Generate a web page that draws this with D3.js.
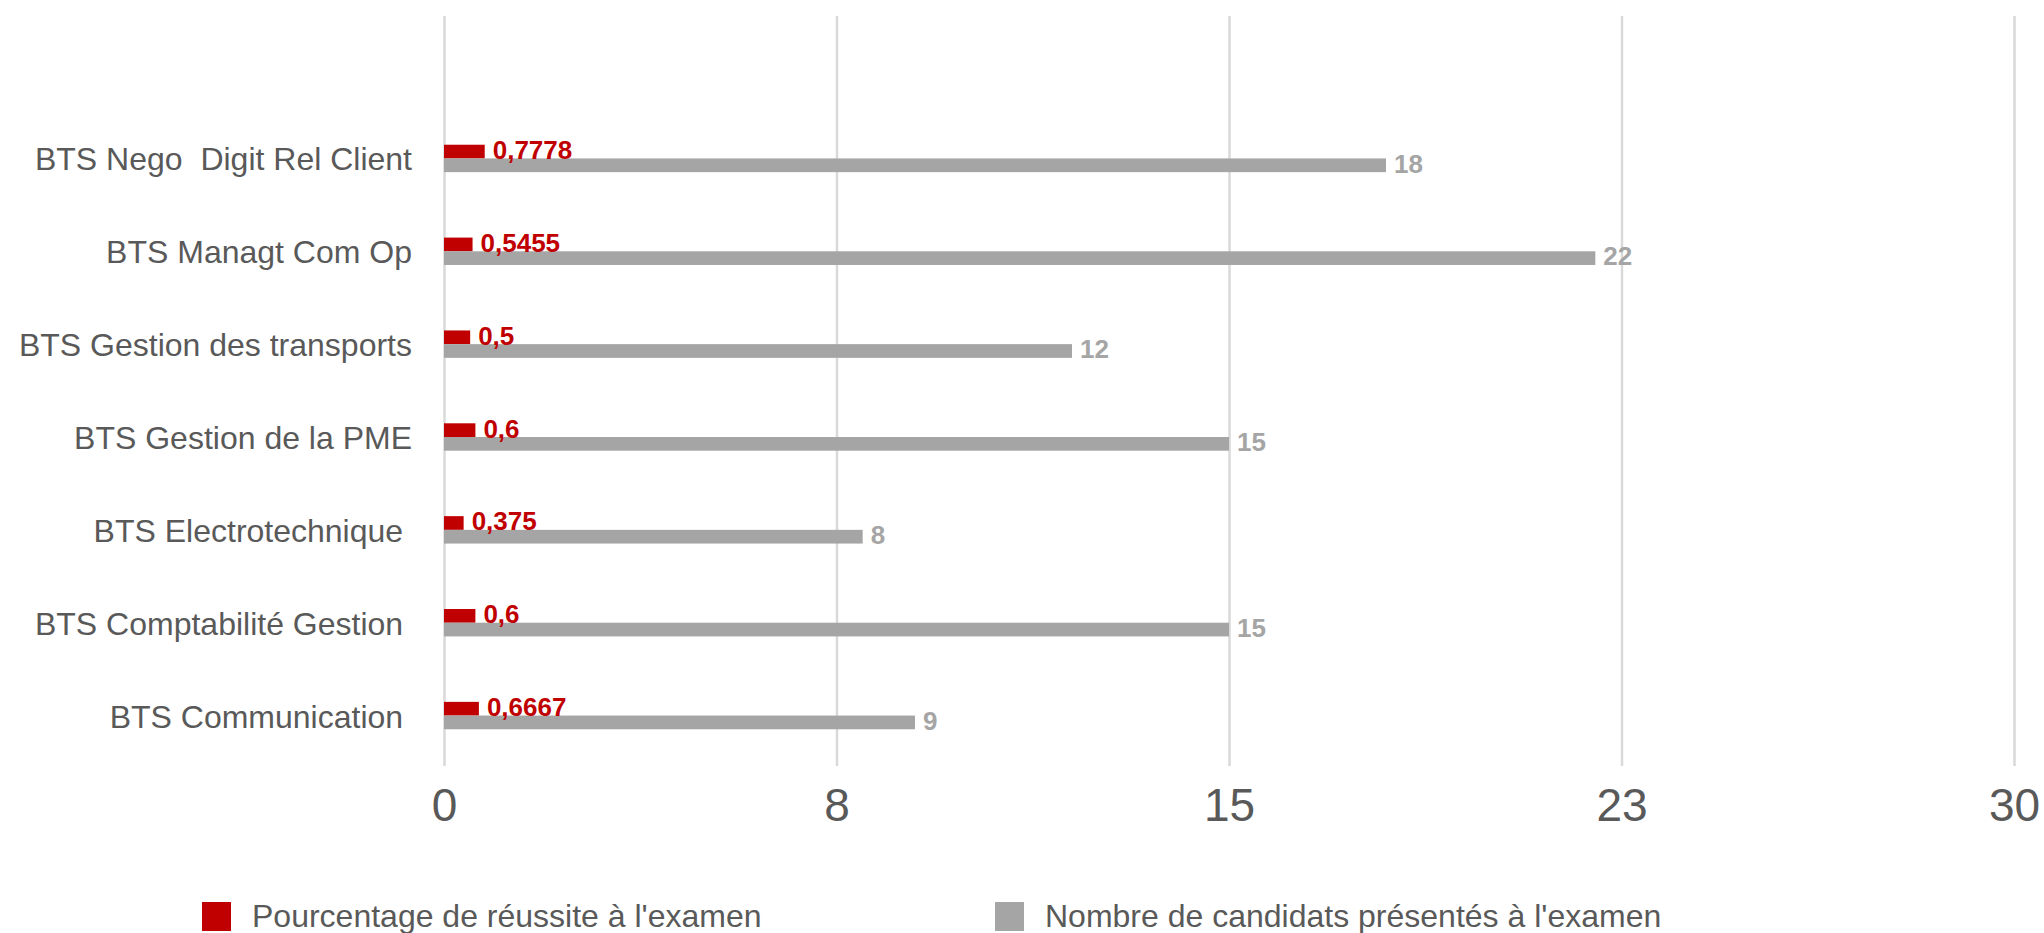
<!DOCTYPE html>
<html>
<head>
<meta charset="utf-8">
<script src="https://cdn.jsdelivr.net/npm/d3@7"></script>
<style>
  html, body { margin: 0; padding: 0; background: #fff; }
  svg { display: block; font-family: "Liberation Sans", Arial, sans-serif; }
  text { white-space: pre; }
</style>
</head>
<body>
<svg id="chart" width="2044" height="933"></svg>
<script>
// ---- data ----
const categories = [
  "BTS Nego  Digit Rel Client",
  "BTS Managt Com Op",
  "BTS Gestion des transports",
  "BTS Gestion de la PME",
  "BTS Electrotechnique ",
  "BTS Comptabilité Gestion ",
  "BTS Communication "
];
const successRate = [0.7778, 0.5455, 0.5, 0.6, 0.375, 0.6, 0.6667];
const candidates = [18, 22, 12, 15, 8, 15, 9];
const tickValues = [0, 7.5, 15, 22.5, 30];
const tickLabels = ["0", "8", "15", "23", "30"];
const seriesNames = ["Pourcentage de réussite à l'examen", "Nombre de candidats présentés à l'examen"];
const seriesColors = ["#c00000", "#a5a5a5"];

// ---- layout ----
const svg = d3.select("#chart");
const xLeft = 444, xRight = 2014;
const gridTop = 16, gridBottom = 766;
const x = d3.scaleLinear().domain([0, 30]).range([xLeft, xRight]);
const y = d3.scaleBand().domain(categories).range([112, 762]);
const barH = 13.7;
const textColor = "#595959";

// gridlines + tick labels via axis
const axis = d3.axisBottom(x)
  .tickValues(tickValues)
  .tickFormat((d, i) => tickLabels[i])
  .tickSize(-(gridBottom - gridTop));
const gAxis = svg.append("g").attr("transform", `translate(0,${gridBottom})`).call(axis);
gAxis.select(".domain").remove();
gAxis.selectAll(".tick line").attr("stroke", "#d9d9d9").attr("stroke-width", 2.5);
gAxis.selectAll(".tick text")
  .attr("y", 55).attr("dy", 0)
  .attr("fill", textColor)
  .attr("font-size", 46)
  .attr("font-family", "Liberation Sans, Arial, sans-serif");

// category labels
svg.append("g").selectAll("text").data(categories).join("text")
  .attr("x", 412)
  .attr("y", d => y(d) + y.bandwidth() / 2 + 12)
  .attr("text-anchor", "end")
  .attr("font-size", 32)
  .attr("fill", textColor)
  .text(d => d);

const rows = categories.map((c, i) => ({ c, p: successRate[i], n: candidates[i] }));
const center = d => y(d.c) + y.bandwidth() / 2;

// red bars (success rate)
svg.append("g").selectAll("rect").data(rows).join("rect")
  .attr("x", x(0))
  .attr("y", d => center(d) - barH)
  .attr("width", d => x(d.p) - x(0))
  .attr("height", barH)
  .attr("fill", seriesColors[0]);

// gray bars (candidates)
svg.append("g").selectAll("rect").data(rows).join("rect")
  .attr("x", x(0))
  .attr("y", d => center(d))
  .attr("width", d => x(d.n) - x(0))
  .attr("height", barH)
  .attr("fill", seriesColors[1]);

// labels
svg.append("g").selectAll("text").data(rows).join("text")
  .attr("x", d => x(d.p) + 8)
  .attr("y", d => center(d) + 0.5)
  .attr("font-size", 26)
  .attr("font-weight", "bold")
  .attr("fill", seriesColors[0])
  .text(d => String(d.p).replace(".", ","));

svg.append("g").selectAll("text").data(rows).join("text")
  .attr("x", d => x(d.n) + 8)
  .attr("y", d => center(d) + barH + 0.5)
  .attr("font-size", 26)
  .attr("font-weight", "bold")
  .attr("fill", seriesColors[1])
  .text(d => String(d.n));

// legend
const legendX = [202, 995];
const lg = svg.append("g").selectAll("g").data(seriesNames).join("g")
  .attr("transform", (d, i) => `translate(${legendX[i]},902)`);
lg.append("rect").attr("width", 29).attr("height", 29).attr("fill", (d, i) => seriesColors[i]);
lg.append("text").attr("x", 50).attr("y", 25)
  .attr("font-size", 32).attr("fill", textColor).text(d => d);
</script>
</body>
</html>
